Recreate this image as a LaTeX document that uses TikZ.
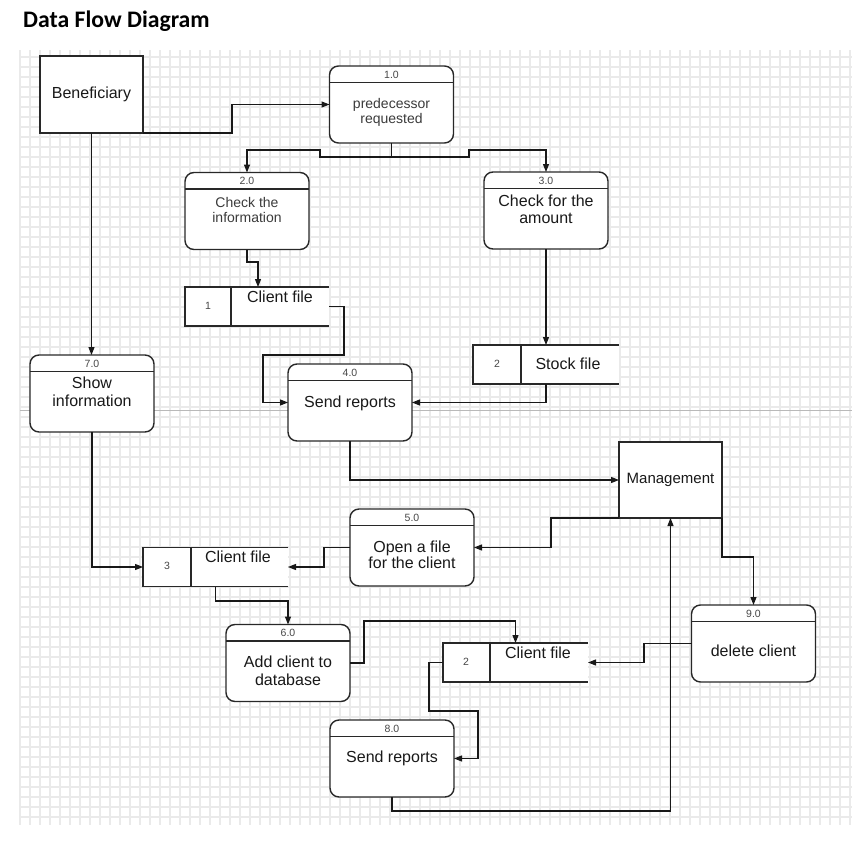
\documentclass[tikz,border=0pt]{standalone}
\usepackage{fontspec}
\setmainfont{Liberation Sans}
\newfontfamily\titlefont{Carlito}
\usetikzlibrary{arrows.meta,calc}

\definecolor{gridc}{RGB}{234,234,234}
\definecolor{boxc}{RGB}{40,40,40}
\definecolor{txtc}{RGB}{25,25,25}
\definecolor{sepc}{RGB}{185,185,185}

\newcommand{\dfdproc}[3]{%
  \node[proc] (#1) at (#2) {};
  \draw[hdr] ([yshift=-16.5pt]#1.north west) -- ([yshift=-16.5pt]#1.north east);
  \node[num] (#1-no) at ([yshift=-8.5pt]#1.north) {#3};
}
\newcommand{\dfdstore}[4]{%
  \node[storebox, minimum width=#3pt] (#1) at (#2) {};
  \draw[sline] (#1.north east) -- (#1.north west) -- (#1.south west) -- (#1.south east);
  \draw[sline] ([xshift=#4pt]#1.north west) -- ([xshift=#4pt]#1.south west);
}

\begin{document}
\begin{tikzpicture}[x=1pt,y=-1pt,
  gridline/.style={draw=gridc, line width=1.2pt},
  proc/.style={draw=boxc, fill=white, line width=1.4pt, rounded corners=9pt, minimum width=124pt, minimum height=77pt, inner sep=0pt, outer sep=0pt},
  ext/.style={draw=boxc, fill=white, line width=1.2pt, inner sep=0pt, outer sep=0pt, text=txtc},
  hdr/.style={draw=boxc, line width=1.3pt},
  num/.style={font=\fontsize{10.5}{12}\selectfont, text=txtc!80, inner sep=0pt},
  lbl/.style={font=\fontsize{16}{18}\selectfont, text=txtc, align=center, inner sep=0pt},
  slbl/.style={font=\fontsize{14}{15}\selectfont, text=txtc!85, align=center, inner sep=0pt},
  storebox/.style={fill=white, minimum height=39pt, inner sep=0pt, outer sep=0pt},
  sline/.style={draw=boxc, line width=1.3pt},
  flow/.style={draw=black!90, line width=1.2pt, -{Triangle[length=8pt,width=6pt]}},
]
\useasboundingbox (0,0) rectangle (868,846);
\fill[white] (0,0) rectangle (868,846);

% grid
\foreach \gx in {20,30,...,850} \draw[gridline] (\gx,50) -- (\gx,825);
\foreach \gy in {57,67,...,817} \draw[gridline] (20,\gy) -- (852,\gy);
\draw[draw=sepc, line width=1pt] (20,410) -- (852,410);

% title
\node[anchor=base west, inner sep=0pt, font=\titlefont\bfseries\fontsize{23.7}{25}\selectfont] (title) at (23,27) {Data Flow Diagram};

% external entities
\node[ext, minimum width=103pt, minimum height=77pt, font=\fontsize{16}{18}\selectfont] (ben) at (91.5,94.5) {Beneficiary};
\node[ext, minimum width=103pt, minimum height=76pt, font=\fontsize{15}{17}\selectfont] (mgmt) at (670.5,480) {Management};

% processes
\dfdproc{p1}{391.5,104.5}{1.0}
\node[slbl] (p1-t) at (391.5,112.5) {predecessor\\requested};
\dfdproc{p2}{247,211}{2.0}
\node[slbl, font=\fontsize{14}{14.5}\selectfont] (p2-t) at (247,210) {Check the\\information};
\dfdproc{p3}{546,210.5}{3.0}
\node[lbl, font=\fontsize{16}{17}\selectfont] (p3-t) at (546,209.5) {Check for the\\amount};
\dfdproc{p7}{92,393.5}{7.0}
\node[lbl] (p7-t) at (92,392) {Show\\information};
\dfdproc{p4}{350,402.5}{4.0}
\node[lbl] (p4-t) at (350,403) {Send reports};
\dfdproc{p5}{412,547.5}{5.0}
\node[lbl, font=\fontsize{16}{16.5}\selectfont] (p5-t) at (412,555) {Open a file\\for the client};
\dfdproc{p6}{288,663}{6.0}
\node[lbl] (p6-t) at (288,671) {Add client to\\database};
\dfdproc{p8}{392,758.5}{8.0}
\node[lbl] (p8-t) at (392,758) {Send reports};
\dfdproc{p9}{753.5,643.5}{9.0}
\node[lbl] (p9-t) at (753.5,651) {delete client};

% data stores
\dfdstore{s1}{257,306.5}{144}{46}
\node[num] (s1-no) at (208,306) {1};
\node[lbl] (s1-t) at (280,297) {Client file};
\dfdstore{s2}{546,364.5}{146}{48}
\node[num] (s2-no) at (497,364) {2};
\node[lbl] (s2-t) at (568,364) {Stock file};
\dfdstore{s3}{215.5,567}{145}{48}
\node[num] (s3-no) at (167,566) {3};
\node[lbl] (s3-t) at (238,557) {Client file};
\dfdstore{s4}{515.5,662.5}{145}{47}
\node[num] (s4-no) at (466,662) {2};
\node[lbl] (s4-t) at (538,653) {Client file};

% flows
\draw[flow] (ben.south east) -- (232,133) |- (p1.west);
\draw[flow] (ben.south) -- (ben.south |- p7.north);
\draw[flow] (p1.south) |- (320,157) |- (247,150) -- (p2.north);
\draw[flow] (p1.south) |- (469,157) |- (546,150) -- (p3.north);
\draw[flow] (p2.south) |- (258,262) -- ($(s1.north west)+(73,0)$);
\draw[flow] (s1.east) -- (344,306.5) |- (263,355) |- (p4.west);
\draw[flow] (p3.south) -- (s2.north);
\draw[flow] (s2.south) |- (p4.east);
\draw[flow] (p7.south) |- (s3.west);
\draw[flow] (p4.south) |- (mgmt.west);
\draw[flow] (mgmt.south west) -- (551,518) |- (p5.east);
\draw[flow] (p5.west) -- (324,547.5) |- (s3.east);
\draw[flow] (s3.south) |- (288,601) -- (p6.north);
\draw[flow] (p6.east) -- (364,663) |- (515.5,621) -- (s4.north);
\draw[flow] (s4.west) -- (429,662.5) |- (478,711) |- (p8.east);
\draw[flow] (p8.south) |- (670.5,811) -- (mgmt.south);
\draw[flow] (mgmt.south east) -- (722,557) -| (p9.north);
\draw[flow] (p9.west) -- (644,643.5) |- (s4.east);
\end{tikzpicture}
\end{document}
